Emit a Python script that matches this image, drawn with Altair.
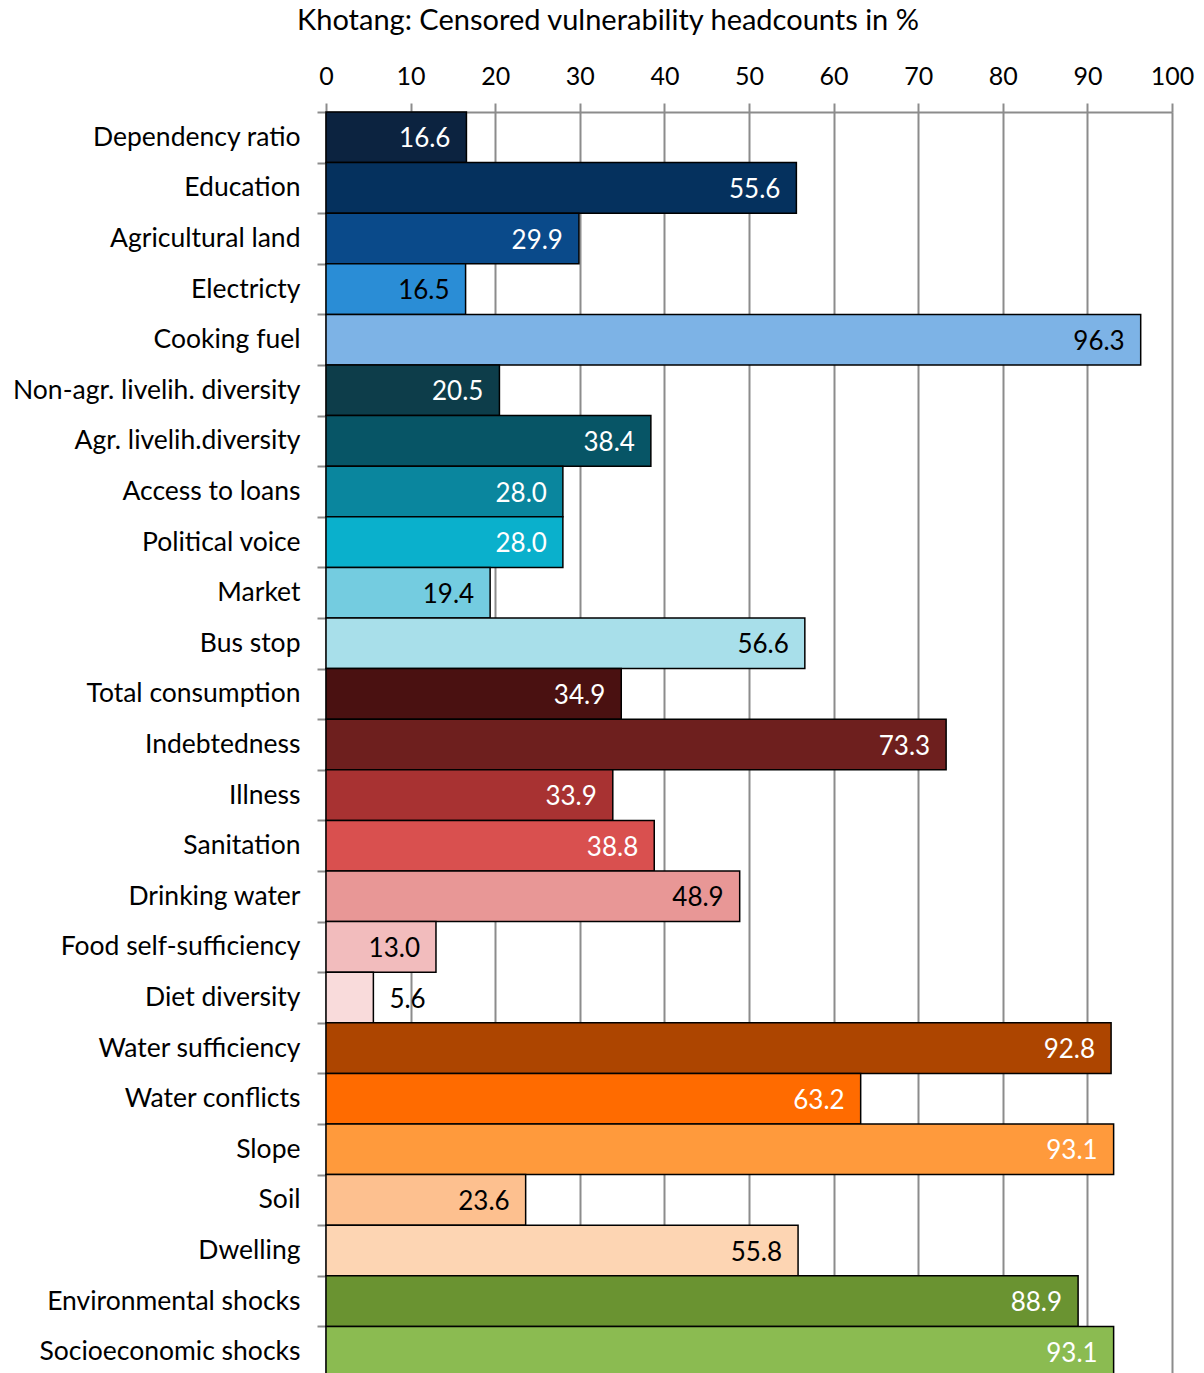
import altair as alt
import pandas as pd

categories = [
    "Dependency ratio", "Education", "Agricultural land", "Electricty", "Cooking fuel",
    "Non-agr. livelih. diversity", "Agr. livelih.diversity", "Access to loans", "Political voice",
    "Market", "Bus stop", "Total consumption", "Indebtedness", "Illness", "Sanitation",
    "Drinking water", "Food self-sufficiency", "Diet diversity", "Water sufficiency",
    "Water conflicts", "Slope", "Soil", "Dwelling", "Environmental shocks", "Socioeconomic shocks",
]
values = [16.6, 55.6, 29.9, 16.5, 96.3, 20.5, 38.4, 28.0, 28.0, 19.4, 56.6, 34.9, 73.3, 33.9,
          38.8, 48.9, 13.0, 5.6, 92.8, 63.2, 93.1, 23.6, 55.8, 88.9, 93.1]
bar_colors = [
    "#0c2340", "#05315e", "#0a4a8a", "#2a8dd6", "#7db3e6",
    "#0d3d4a", "#075566", "#0a869e", "#0ab0cc", "#74cce0", "#a8dfea",
    "#4a1111", "#6e1f1e", "#a83232", "#d9504f", "#e89796", "#f2bcbd", "#f9dbdb",
    "#ad4500", "#ff6b00", "#ff9a3c", "#fdc08f", "#fdd5b3",
    "#6a9331", "#8bbb51",
]
label_colors = [
    "white", "white", "white", "black", "black",
    "white", "white", "white", "white", "black", "black",
    "white", "white", "white", "white", "black", "black", "black",
    "white", "white", "white", "black", "black",
    "white", "white",
]
outside = [False] * 17 + [True] + [False] * 7

df = pd.DataFrame({
    "category": categories,
    "value": values,
    "bar_color": bar_colors,
    "label_color": label_colors,
    "label": [f"{v:.1f}" for v in values],
    "outside": outside,
})

FONT = "Lato"

y_enc = alt.Y(
    "category:N", sort=categories,
    scale=alt.Scale(paddingInner=0, paddingOuter=0),
    axis=alt.Axis(title=None, labelFontSize=26.5, labelFont=FONT, labelColor="black",
                  labelPadding=17, labelLimit=400, tickBand="extent", tickSize=9,
                  tickColor="#8c8c8c", tickWidth=2, domainColor="#8c8c8c", domainWidth=2,
                  grid=False),
)
x_enc = alt.X(
    "value:Q",
    scale=alt.Scale(domain=[0, 100], nice=False),
    axis=alt.Axis(orient="top", title=None, values=list(range(0, 101, 10)),
                  labelFontSize=25, labelFont=FONT, labelColor="black", labelPadding=14,
                  labelFlush=False, labelOverlap=False,
                  tickSize=9, tickColor="#8c8c8c", tickWidth=2,
                  domainColor="#8c8c8c", domainWidth=2,
                  grid=True, gridColor="#8c8c8c", gridWidth=2),
)

bars = alt.Chart(df).mark_bar(stroke="black", strokeWidth=1.5).encode(
    y=y_enc, x=x_enc,
    color=alt.Color("bar_color:N", scale=None),
)

inside_labels = alt.Chart(df).transform_filter("!datum.outside").mark_text(
    align="right", baseline="middle", dx=-16, dy=2, fontSize=26, font=FONT,
).encode(
    y=alt.Y("category:N", sort=categories),
    x=alt.X("value:Q"),
    text="label:N",
    color=alt.Color("label_color:N", scale=None),
)

outside_labels = alt.Chart(df).transform_filter("datum.outside").mark_text(
    align="left", baseline="middle", dx=16, dy=2, fontSize=26, font=FONT,
).encode(
    y=alt.Y("category:N", sort=categories),
    x=alt.X("value:Q"),
    text="label:N",
    color=alt.Color("label_color:N", scale=None),
)

chart = alt.layer(bars, inside_labels, outside_labels).properties(
    width=846, height=1265,
    title=alt.TitleParams("Khotang: Censored vulnerability headcounts in %",
                          fontSize=29, font=FONT, fontWeight="normal", color="black",
                          anchor="middle", dx=-141, offset=28),
    autosize=alt.AutoSizeParams(type="none"),
    padding={"left": 326, "top": 112, "right": 32, "bottom": 0},
).configure_view(stroke=None).configure(background="white")

chart.save("out.html", embed_options={"renderer": "svg", "actions": False})
